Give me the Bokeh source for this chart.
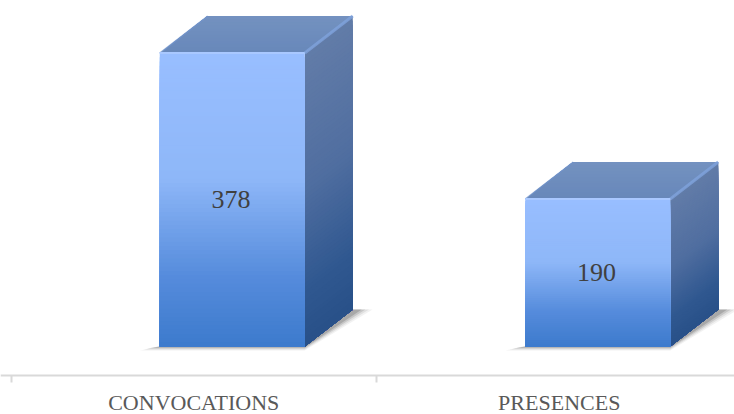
from bokeh.plotting import figure
from bokeh.embed import file_html
from bokeh.resources import INLINE
from bokeh.models import FixedTicker, Range1d
from bokeh.core.properties import value

categories = ["CONVOCATIONS", "PRESENCES"]
values = [378, 190]

W, H, AX = 734, 414, 374.5
PX_X = 365.5          # pixels per category
PX_Y = 147.5 / 190    # pixels per unit
X0 = 10.5             # first tick pixel
Y0 = 346              # baseline pixel

p = figure(width=W, height=H, output_backend="svg", toolbar_location=None,
           x_range=Range1d((0 - X0) / PX_X, (W - X0) / PX_X),
           y_range=Range1d(-(H - Y0) / PX_Y, Y0 / PX_Y),
           min_border_left=0, min_border_right=0, min_border_top=0, min_border_bottom=0,
           outline_line_color=None, background_fill_color="white", border_fill_color="white")
p.grid.visible = False
p.yaxis.visible = False

ax = p.xaxis[0]
ax.fixed_location = -(AX - Y0) / PX_Y
ax.ticker = FixedTicker(ticks=[0.5, 1.5], minor_ticks=[0, 1, 2])
ax.major_label_overrides = {0.5: categories[0], 1.5: categories[1]}
ax.major_tick_line_color = None
ax.major_tick_in = 0
ax.major_tick_out = 0
ax.minor_tick_in = 0
ax.minor_tick_out = 7
ax.minor_tick_line_color = "#d9d9d9"
ax.minor_tick_line_width = 2
ax.axis_line_color = "#d9d9d9"
ax.axis_line_width = 2
ax.major_label_standoff = 8
ax.major_label_text_font = "Liberation Serif"
ax.major_label_text_font_size = "22px"
ax.major_label_text_color = "#595959"


def mix(stops, t):
    for (a, ca), (b, cb) in zip(stops, stops[1:]):
        if t <= b:
            f = (t - a) / (b - a) if b > a else 0
            return "#%02x%02x%02x" % tuple(round(ca[i] + (cb[i] - ca[i]) * f) for i in range(3))
    return "#%02x%02x%02x" % stops[-1][1]


FRONT = [(0, (152, 190, 255)), (0.42, (142, 183, 248)), (0.75, (86, 140, 220)), (1, (60, 122, 204))]
SIDE = [(0, (98, 124, 168)), (0.45, (80, 110, 160)), (0.8, (48, 88, 144)), (1, (40, 80, 136))]
TOP = [(0, (104, 136, 186)), (1, (116, 146, 192))]

BW = 145 / PX_X        # front width
DX = 48 / PX_X         # depth, x
DY = 37 / PX_Y         # depth, y
OFF = 0.5 + 38.5 / PX_X
N = 70

for i, v in enumerate(values):
    x0 = i + OFF - BW / 2
    x1 = x0 + BW
    # shadow
    for k, a in enumerate([0.07, 0.10, 0.16, 0.22]):
        g = (4 - k) * 2
        p.patch([x0 - (g + 3) * 1.8 / PX_X, x1, x1 + DX + (g + 3) * 1.8 / PX_X, x1 + DX, x1, x0],
                [-g / PX_Y * 0.5, -g / PX_Y * 0.5, DY, DY, 0, 0],
                fill_color="#404040", fill_alpha=a, line_color=None)
    # side face, painted top to bottom so that each band covers the rest
    for n in range(N):
        y_hi = v * (1 - n / N)
        p.patch([x1, x1 + DX, x1 + DX, x1], [y_hi, y_hi + DY, DY, 0],
                fill_color=mix(SIDE, n / N), line_color=None)
    # top face
    for n in range(12):
        f0 = n / 12
        p.patch([x0 + DX * f0, x1 + DX * f0, x1 + DX, x0 + DX],
                [v + DY * f0, v + DY * f0, v + DY, v + DY],
                fill_color=mix(TOP, f0), line_color=None)
    # bevel highlights
    p.line([x1, x1 + DX], [v, v + DY], line_color="#7fa2dc", line_width=3, line_alpha=0.8)
    p.line([x0, x0 + DX], [v, v + DY], line_color="#7294cc", line_width=1.5, line_alpha=0.7)
    # front face
    tops = [v * (1 - n / N) for n in range(N)]
    p.quad(left=x0, right=x1, top=tops, bottom=0,
           fill_color=[mix(FRONT, n / N) for n in range(N)], line_color=None)
    p.line([x0, x1], [v, v], line_color="#a9c8ff", line_width=2)
    p.text([x0 + BW / 2 - 1.2 / PX_X], [v / 2], text=[str(v)],
           text_font=value("Liberation Serif"), text_font_size="26px",
           text_color="#404040", text_align="center", text_baseline="middle")

open("out.html", "w").write(file_html(p, INLINE))
